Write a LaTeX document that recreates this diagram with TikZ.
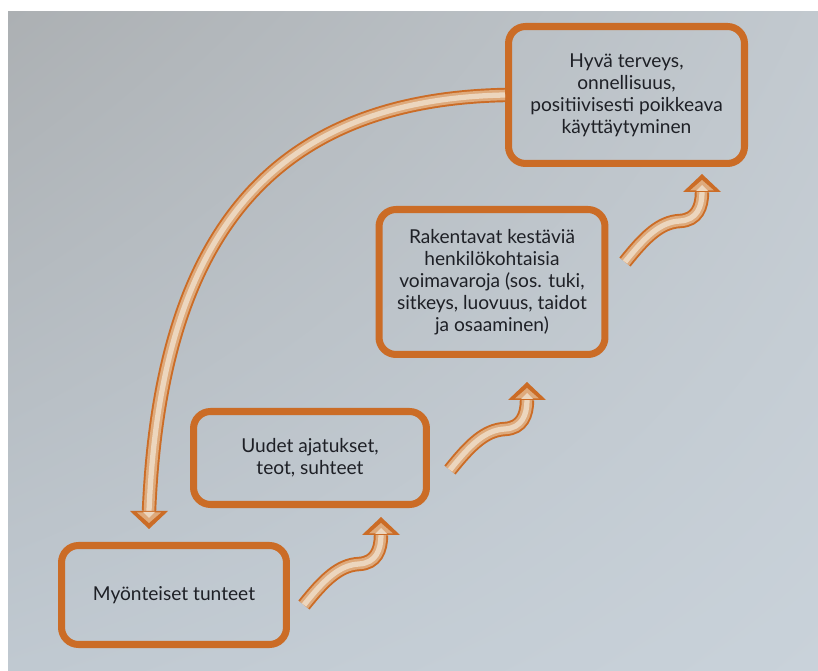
\documentclass[tikz,border=0pt]{standalone}
\usepackage{fontspec}
\setmainfont{Lato}
\usetikzlibrary{shadings}

\definecolor{orng}{RGB}{203,108,38}
\definecolor{peach}{RGB}{222,170,124}
\definecolor{cream}{RGB}{236,214,190}
\definecolor{ink}{RGB}{30,32,38}
\definecolor{paperul}{RGB}{172,176,179}
\definecolor{paperur}{RGB}{194,201,207}
\definecolor{paperll}{RGB}{192,201,209}
\definecolor{paperlr}{RGB}{201,210,218}

\tikzset{
  stepframe/.style={draw=orng, line width=4pt, rounded corners=0.34cm, align=center,
    text=ink, font=\fontsize{10.9}{12.6}\selectfont, inner sep=0pt},
  shaft/.style={draw=orng, line width=8.2pt,
    postaction={draw=peach, line width=6pt},
    postaction={draw=cream, line width=3pt}},
  arrowtip/.pic={
    \fill[orng] (-19,0) -- (19,0) -- (0,-18) -- cycle;
    \fill[peach] (-12,-1.5) -- (12,-1.5) -- (0,-12) -- cycle;
    \fill[cream] (-6,-1) -- (6,-1) -- (0,-7) -- cycle;
  },
  wave/.pic={
    \draw[shaft] (0,0) .. controls (20,-25) and (35,-40) .. (55,-41)
      .. controls (72,-42) and (77,-55) .. (77,-70);
    \pic at (77,-70) {arrowtip};
  }
}

\begin{document}
\begin{tikzpicture}[x=0.02cm, y=-0.02cm]
  \useasboundingbox (0,0) rectangle (818,671);
  % page of the book
  \fill[white] (0,0) rectangle (818,671);
  \shade[upper left=paperul, upper right=paperur, lower left=paperll, lower right=paperlr]
    (8,12) rectangle (818,671);

  % Boxes:
  \node[stepframe, minimum width=4.5cm, minimum height=1.98cm] (tunteet) at (174,595)
    {Myönteiset tunteet};
  \node[stepframe, minimum width=4.66cm, minimum height=1.86cm] (ajatukset) at (310,458)
    {Uudet ajatukset,\\teot, suhteet};
  \node[stepframe, minimum width=4.52cm, minimum height=2.9cm] (voimavarat) at (492,282)
    {Rakentavat kestäviä\\henkilökohtaisia\\voimavaroja (sos. tuki,\\sitkeys, luovuus, taidot\\ja osaaminen)};
  \node[stepframe, minimum width=4.72cm, minimum height=2.74cm] (terveys) at (626.5,95)
    {Hyvä terveys,\\onnellisuus,\\positiivisesti poikkeava\\käyttäytyminen};

  % Wavy arrows between the steps:
  \coordinate (wone) at (304,605);
  \coordinate (wtwo) at (450,470);
  \coordinate (wthree) at (625,262);
  \pic at (wone) {wave};
  \pic at (wtwo) {wave};
  \pic at (wthree) {wave};

  % Feedback arrow back to the start:
  \coordinate (loopend) at (149,511);
  \draw[shaft] (terveys.west) .. controls (260,100) and (160,250) .. (loopend);
  \pic[rotate=180] at (loopend) {arrowtip};
\end{tikzpicture}
\end{document}
